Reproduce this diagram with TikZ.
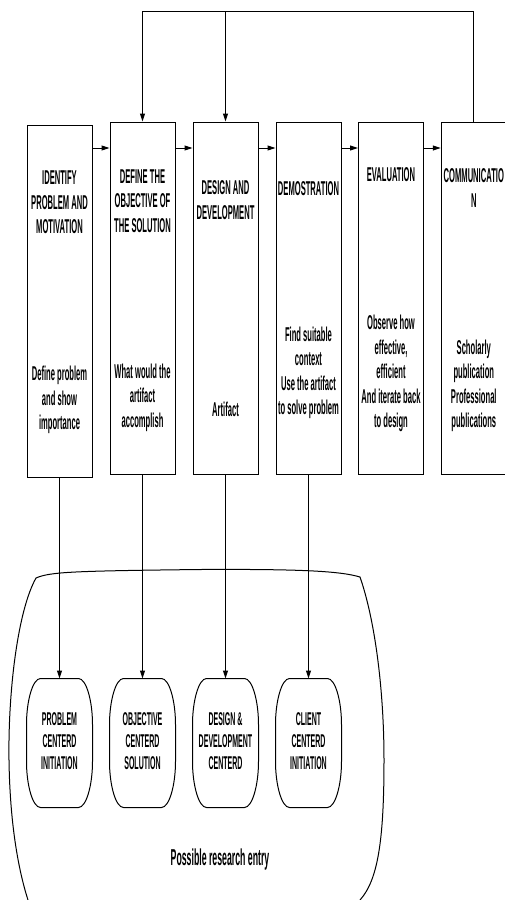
\documentclass[tikz,border=0pt]{standalone}
\usepackage{fontspec}
\setmainfont{Liberation Sans}
\usepackage{graphicx}
\usetikzlibrary{arrows.meta}

\newcommand\boxtxt[1]{\scalebox{0.38}[1]{\fontsize{20}{24.5}\selectfont\bfseries\begin{tabular}{@{}c@{}}#1\end{tabular}}}
\newcommand\termtxt[1]{\scalebox{0.38}[1]{\fontsize{18.5}{21.7}\selectfont\bfseries\begin{tabular}{@{}c@{}}#1\end{tabular}}}
\newcommand\termoutline[1]{%
  \draw ([xshift=14pt]#1.north west) -- ([xshift=-14pt]#1.north east)
    .. controls ([xshift=-6.3pt]#1.north east) and ([yshift=-22pt]#1.north east) .. ([yshift=-46pt]#1.north east)
    -- ([yshift=46pt]#1.south east)
    .. controls ([yshift=22pt]#1.south east) and ([xshift=-6.3pt]#1.south east) .. ([xshift=-14pt]#1.south east)
    -- ([xshift=14pt]#1.south west)
    .. controls ([xshift=6.3pt]#1.south west) and ([yshift=22pt]#1.south west) .. ([yshift=46pt]#1.south west)
    -- ([yshift=-46pt]#1.north west)
    .. controls ([yshift=-22pt]#1.north west) and ([xshift=6.3pt]#1.north west) .. cycle;}

\begin{document}
\begin{tikzpicture}[x=1pt,y=-1pt,
  line width=1pt,
  stage/.style={draw, rectangle, minimum width=65pt, minimum height=352pt, inner sep=0pt},
  term/.style={rectangle, minimum width=65pt, minimum height=128pt, inner sep=0pt},
  lbl/.style={inner sep=0pt},
  arr/.style={-{Triangle[length=8pt,width=5pt]}},
]
\useasboundingbox (0,0) rectangle (504,900);

% stage boxes
\node[stage, minimum height=351.5pt] (B1) at (59.5,301.25) {};
\node[stage] (B2) at (142.5,298) {};
\node[stage] (B3) at (225.5,298) {};
\node[stage] (B4) at (308.5,298) {};
\node[stage] (B5) at (391,298) {};
\node[stage] (B6) at (473.8,298) {};

% headers
\node[lbl] (B1h) at (59.5,204.5) {\boxtxt{IDENTIFY\\PROBLEM AND\\MOTIVATION}};
\node[lbl] (B2h) at (142.5,202.8) {\boxtxt{DEFINE THE\\OBJECTIVE OF\\THE SOLUTION}};
\node[lbl] (B3h) at (225.5,202) {\boxtxt{DESIGN AND\\DEVELOPMENT}};
\node[lbl] (B4h) at (308.5,190.6) {\boxtxt{DEMOSTRATION}};
\node[lbl] (B5h) at (391,176.3) {\boxtxt{EVALUATION}};
\node[lbl] (B6h) at (473.8,190) {\boxtxt{COMMUNICATIO\\N}};

% bodies
\node[lbl] (B1b) at (59.5,400.3) {\boxtxt{Define problem\\and show\\importance}};
\node[lbl] (B2b) at (142.5,398) {\boxtxt{What would the\\artifact\\accomplish}};
\node[lbl] (B3b) at (225.5,411.6) {\boxtxt{Artifact}};
\node[lbl] (B4b) at (308.5,373) {\boxtxt{Find suitable\\context\\Use the artifact\\to solve problem}};
\node[lbl] (B5b) at (391,374) {\boxtxt{Observe how\\effective,\\efficient\\And iterate back\\to design}};
\node[lbl] (B6b) at (473.8,386.3) {\boxtxt{Scholarly\\publication\\Professional\\publications}};

% forward arrows
\coordinate (yarr) at (0,148);
\draw[arr] (B1.east |- yarr) -- (B2.west |- yarr);
\draw[arr] (B2.east |- yarr) -- (B3.west |- yarr);
\draw[arr] (B3.east |- yarr) -- (B4.west |- yarr);
\draw[arr] (B4.east |- yarr) -- (B5.west |- yarr);
\draw[arr] (B5.east |- yarr) -- (B6.west |- yarr);

% feedback
\coordinate (ytop) at (0,11);
\coordinate (fbR) at (B6.north |- ytop);
\coordinate (fbL) at (B2.north |- ytop);
\coordinate (fbM) at (B3.north |- ytop);
\draw[arr] (B6.north) -- (fbR) -- (fbL) -- (B2.north);
\draw[arr] (fbM) -- (B3.north);

% enclosure
\draw (28,900) .. controls (20,875) and (10,830) .. (9,760)
  .. controls (8,690) and (18,610) .. (36,578)
  .. controls (50,572) and (70,571) .. (200,569.5)
  .. controls (300,569) and (340,571) .. (360,577)
  .. controls (375,620) and (384,690) .. (384,760)
  .. controls (384,840) and (378,880) .. (360,900);

% terminals
\node[term] (T1) at (59.5,743) {\termtxt{PROBLEM\\CENTERD\\INITIATION}};
\node[term] (T2) at (142.5,743) {\termtxt{OBJECTIVE\\CENTERD\\SOLUTION}};
\node[term] (T3) at (225.5,743) {\termtxt{DESIGN \&\\DEVELOPMENT\\CENTERD}};
\node[term] (T4) at (308.5,743) {\termtxt{CLIENT\\CENTERD\\INITIATION}};
\termoutline{T1}
\termoutline{T2}
\termoutline{T3}
\termoutline{T4}

\draw[arr] (B1.south) -- (T1.north);
\draw[arr] (B2.south) -- (T2.north);
\draw[arr] (B3.south) -- (T3.north);
\draw[arr] (B4.south) -- (T4.north);

\node[lbl] (entry) at (220,860) {\scalebox{0.38}[1]{\fontsize{23}{27}\selectfont\bfseries Possible research entry}};
\end{tikzpicture}
\end{document}
